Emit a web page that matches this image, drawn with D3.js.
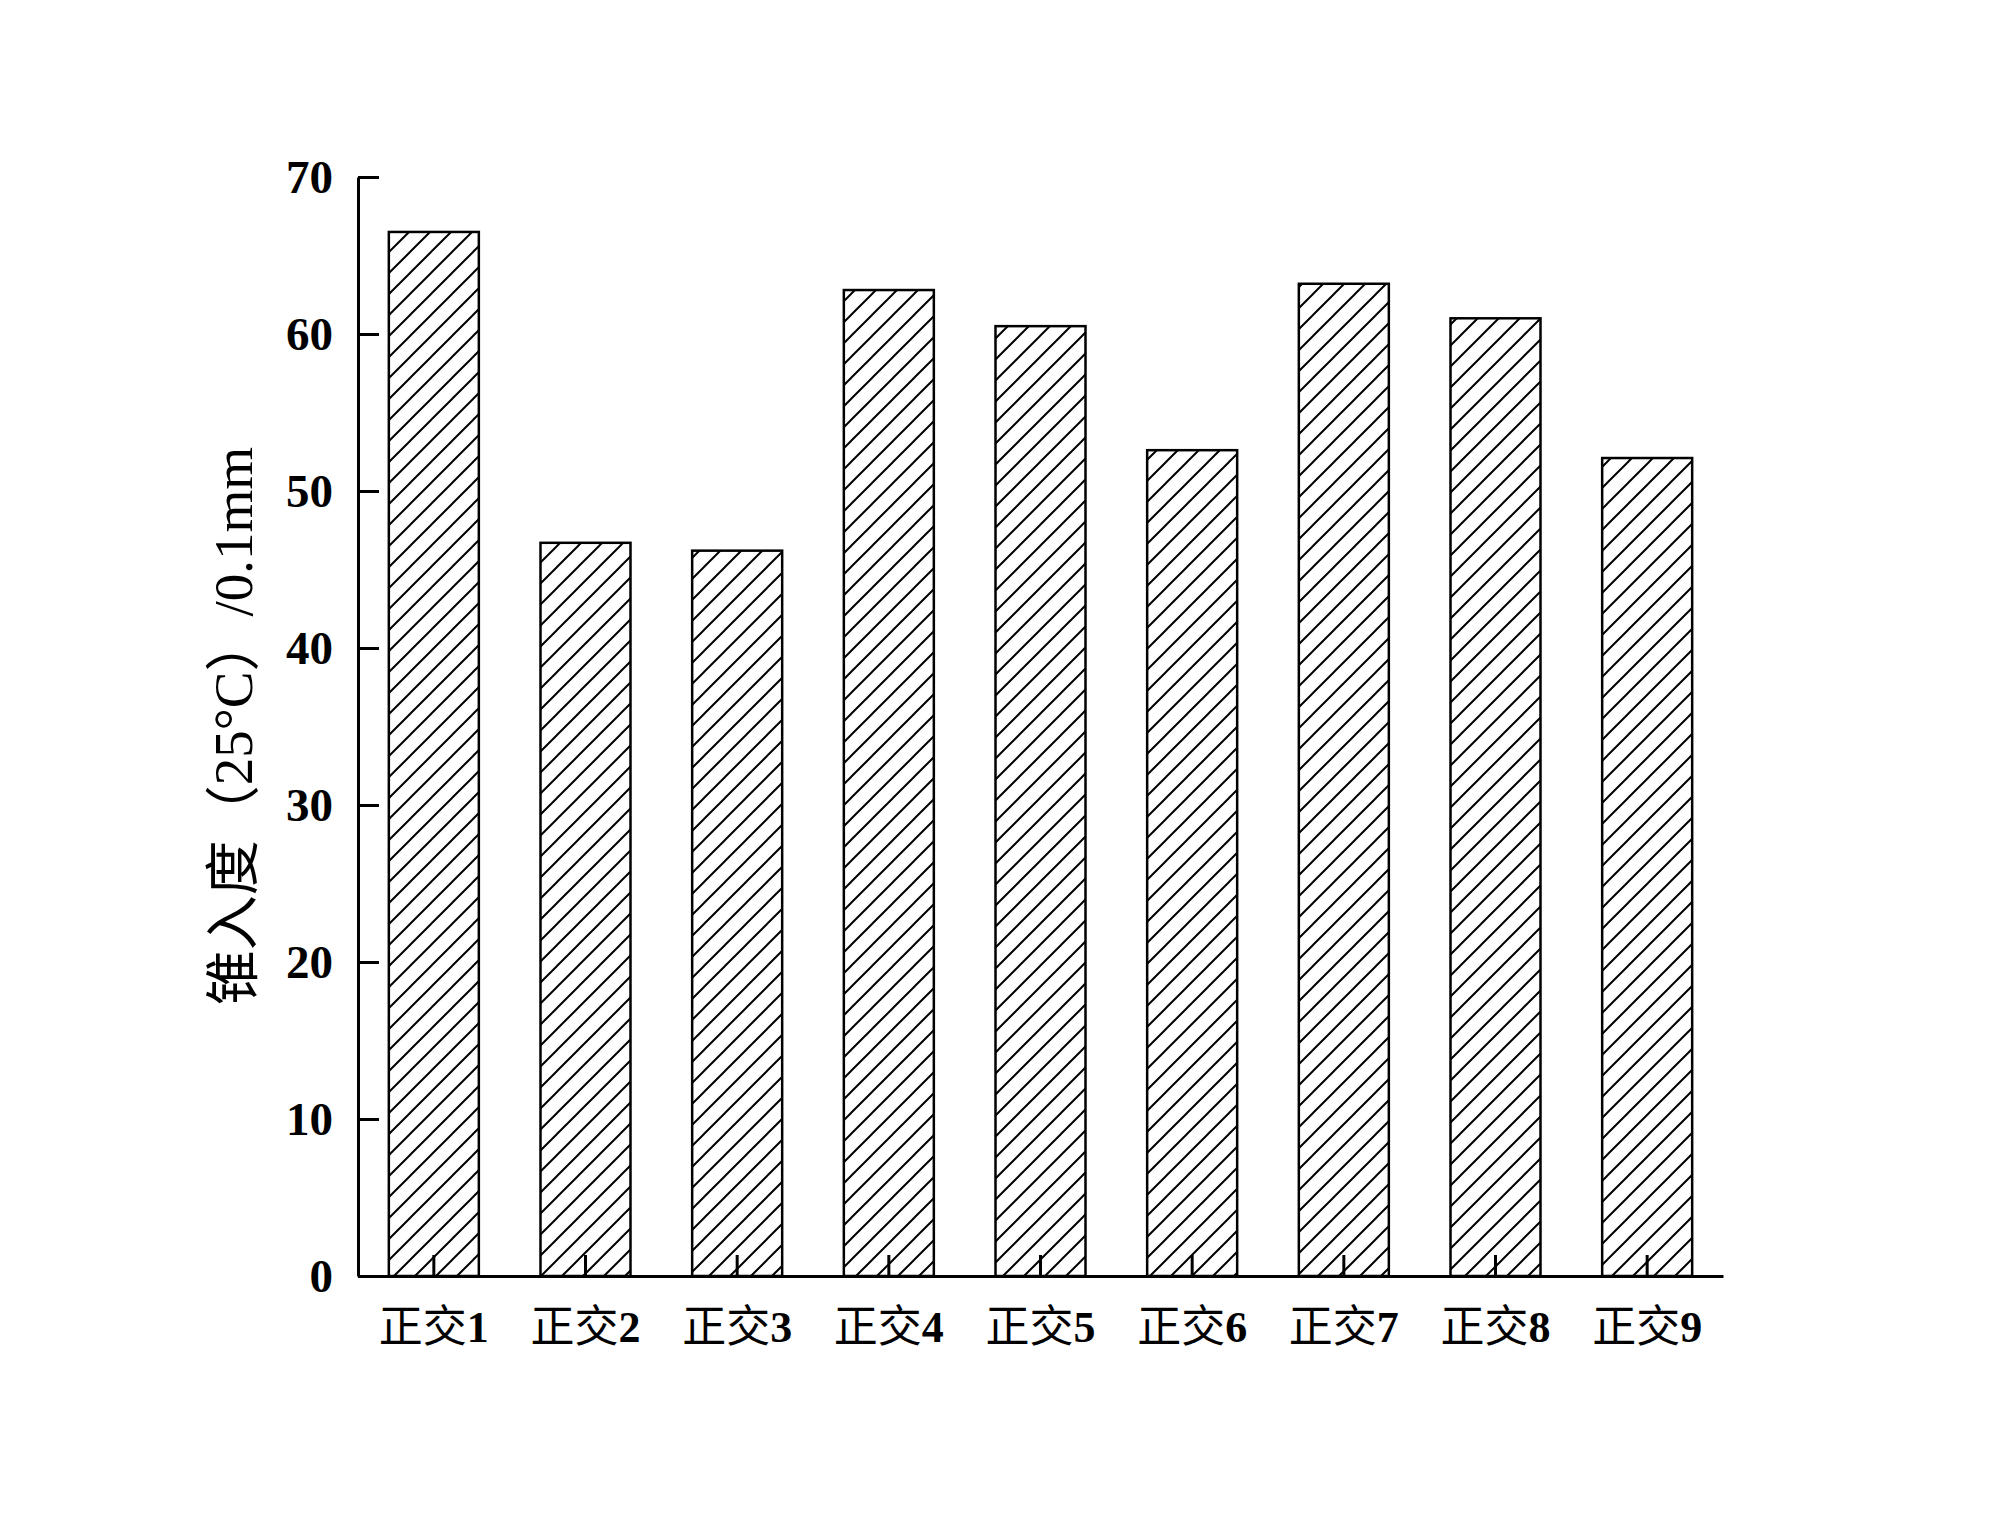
<!DOCTYPE html>
<html>
<head>
<meta charset="utf-8">
<script src="https://cdn.jsdelivr.net/npm/d3@7"></script>
<style>
  html, body { margin: 0; padding: 0; background: #fff; }
  svg { display: block; }
</style>
</head>
<body>
<svg id="chart" width="2000" height="1530"></svg>
<script>
// ---- data ----
const categories = ["正交1", "正交2", "正交3", "正交4", "正交5", "正交6", "正交7", "正交8", "正交9"];
const values = [66.5, 46.7, 46.2, 62.8, 60.5, 52.6, 63.2, 61.0, 52.1];
const yTicks = [0, 10, 20, 30, 40, 50, 60, 70];
const yTitle = "锥入度（25°C）/0.1mm";

// ---- layout ----
const W = 2000, H = 1530;
const x0 = 358, x1 = 1723, yTop = 177, yBot = 1276;

const svg = d3.select("#chart");
svg.append("rect").attr("width", W).attr("height", H).attr("fill", "#fff");

const defs = svg.append("defs");
const pat = defs.append("pattern")
  .attr("id", "hatch")
  .attr("patternUnits", "userSpaceOnUse")
  .attr("width", 21).attr("height", 21)
  .attr("x", 11).attr("y", 0);
pat.append("rect").attr("width", 21).attr("height", 21).attr("fill", "#fff");
pat.append("path")
  .attr("d", "M0,21 L21,0 M-6,6 L6,-6 M15,27 L27,15")
  .attr("stroke", "#000").attr("stroke-width", 2).attr("fill", "none");

const x = d3.scaleBand().domain(categories).range([x0, x1])
  .paddingInner(0.4066).paddingOuter(0.2033);
const y = d3.scaleLinear().domain([0, 70]).range([yBot, yTop]);

// bars
svg.append("g").selectAll("rect")
  .data(values)
  .join("rect")
  .attr("x", (d, i) => x(categories[i]))
  .attr("y", d => y(d))
  .attr("width", x.bandwidth())
  .attr("height", d => y(0) - y(d))
  .attr("fill", "url(#hatch)")
  .attr("stroke", "#000")
  .attr("stroke-width", 2.5);

// y axis
const yAxis = d3.axisLeft(y).tickValues(yTicks).tickSizeInner(-21).tickSizeOuter(0).tickPadding(25);
const gy = svg.append("g").attr("transform", `translate(${x0},0)`).call(yAxis);
gy.select(".domain").attr("stroke", "#000").attr("stroke-width", 3);
gy.selectAll(".tick line").attr("stroke", "#000").attr("stroke-width", 3);
gy.selectAll(".tick text")
  .attr("fill", "#000")
  .attr("font-family", "'Liberation Serif', 'Times New Roman', serif")
  .attr("font-weight", "bold")
  .attr("font-size", 47)
  .attr("dy", "0.34em");

// x axis
const xAxis = d3.axisBottom(x).tickSizeInner(-21).tickSizeOuter(0).tickFormat("");
const gx = svg.append("g").attr("transform", `translate(0,${yBot})`).call(xAxis);
gx.select(".domain").attr("stroke", "#000").attr("stroke-width", 3);
gx.selectAll(".tick line").attr("stroke", "#000").attr("stroke-width", 3);

// x labels
const lab = svg.append("g").selectAll("text")
  .data(categories)
  .join("text")
  .attr("x", d => x(d) + x.bandwidth() / 2)
  .attr("y", 1342)
  .attr("text-anchor", "middle")
  .attr("fill", "#000")
  .attr("font-size", 44);
lab.append("tspan")
  .attr("font-family", "'Noto Sans CJK SC', sans-serif")
  .attr("font-weight", "normal")
  .text(d => d.replace(/[0-9]+/g, ""));
lab.append("tspan")
  .attr("font-family", "'Liberation Serif', 'Times New Roman', serif")
  .attr("font-weight", "bold")
  .text(d => d.replace(/[^0-9]+/g, ""));

// y title
svg.append("text")
  .attr("transform", "translate(233,726) rotate(-90)")
  .attr("text-anchor", "middle")
  .attr("dominant-baseline", "central")
  .attr("fill", "#000")
  .attr("font-size", 55)
  .attr("font-family", "'Liberation Serif', 'Noto Sans CJK SC', serif")
  .text(yTitle);
</script>
</body>
</html>
